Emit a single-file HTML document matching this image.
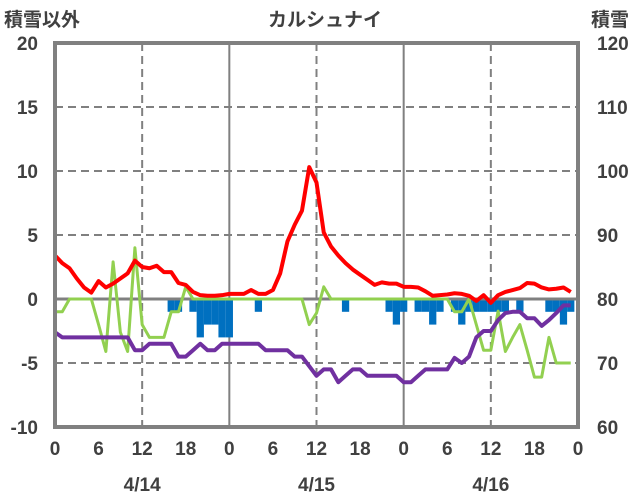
<!DOCTYPE html>
<html><head><meta charset="utf-8"><style>
html,body{margin:0;padding:0;background:#fff;}
svg{display:block;font-family:"Liberation Sans","Noto Sans CJK JP",sans-serif;}
</style></head><body>
<svg id="chart" width="636" height="501" viewBox="0 0 636 501"></svg>
<script>
const hours = [];for(let i=0;i<=71;i++)hours.push(i);
const tempVals = [3.4,2.8,2.4,1.6,0.9,0.5,1.4,0.9,1.2,1.6,2.0,3.0,2.5,2.4,2.6,2.1,2.1,1.25,1.1,0.55,0.3,0.25,0.25,0.3,0.4,0.4,0.4,0.7,0.4,0.4,0.7,2.0,4.5,5.8,6.9,10.3,9.1,5.2,4.1,3.4,2.8,2.3,1.9,1.5,1.1,1.3,1.2,1.2,0.95,0.95,0.9,0.6,0.25,0.3,0.35,0.45,0.4,0.25,-0.15,0.3,-0.3,0.3,0.55,0.7,0.85,1.25,1.2,0.9,0.75,0.8,0.9,0.55];
const greenVals = [-1,-1,0,0,0,0,-2,-4.1,2.9,-2.6,-4.1,4.0,-2.0,-3,-3,-3,-1,-1,0.95,0,0,0,0,0,0,0,0,0,0,0,0,0,0,0,0,-2.0,-1.1,0.95,0,0,0,0,0,0,0,0,0,0,0,0,0,0,0,0,0,-1,-1,0,-2,-4,-4,-0.95,-4.1,-3,-2,-4,-6.1,-6.1,-3,-5,-5,-5];
const snowDepth = [74.8,74,74,74,74,74,74,74,74,74,74,72,72,73,73,73,73,71,71,72,73,72,72,73,73,73,73,73,73,72,72,72,72,71,71,69.5,68,69,69,67,68,69,69,68,68,68,68,68,67,67,68,69,69,69,69,70.8,70,71,74,75,75,76.7,77.8,78,78,77,77,75.8,76.7,77.8,79,79];
const barVals = [0,0,0,0,0,0,0,0,0,0,0,0,0,0,0,0,-1,-1,0,-1,-3,-2,-2,-3,-3,0,0,0,-1,0,0,0,0,0,0,0,0,0,0,0,-1,0,0,0,0,0,-1,-2,-1,0,-1,-1,-2,-1,0,-1,-2,-1,-1,-1,-1,-1,-1,0,-1,0,0,0,-1,-1,-2,-1];
const leftTicks = [20,15,10,5,0,-5,-10];
const rightTicks = [120,110,100,90,80,70,60];
const xTickLabels = ["0","6","12","18","0","6","12","18","0","6","12","18","0"];
const dateLabels = ["4/14","4/15","4/16"];

const L=55,R=578,T=43,B=427;
const xs=h=>L+(R-L)*h/72;
const yl=v=>T+(20-v)*(B-T)/30;
const yr=v=>T+(120-v)*(B-T)/60;
const svg=document.getElementById('chart');
const NS="http://www.w3.org/2000/svg";
function mk(tag,attrs,parent){const e=document.createElementNS(NS,tag);for(const k in attrs)e.setAttribute(k,attrs[k]);(parent||svg).appendChild(e);return e;}

[15,10,5,-5].forEach(v=>{const g=mk('line',{x1:L,x2:R,y1:yl(v),y2:yl(v),stroke:'#808080','stroke-width':2,'stroke-dasharray':'8,5'});

});
[12,36,60].forEach(h=>{const g=mk('line',{x1:xs(h),x2:xs(h),y1:T,y2:B,stroke:'#808080','stroke-width':2,'stroke-dasharray':'8,5'});

});
[24,48].forEach(h=>{const g=mk('line',{x1:xs(h),x2:xs(h),y1:T,y2:B,stroke:'#808080','stroke-width':2});

});

barVals.forEach((v,i)=>{if(!v)return;const w=(R-L)/72;
const b=mk('rect',{x:xs(i)-w/2,y:yl(0),width:w,height:yl(v)-yl(0),fill:'#0070c0'});

});

const z=mk('line',{x1:L,x2:R,y1:yl(0),y2:yl(0),stroke:'#808080','stroke-width':3});



function line(vals,fy,color,w,name){const p=mk('polyline',{points:vals.map((v,i)=>xs(i)+','+fy(v)).join(' '),fill:'none',stroke:color,'stroke-width':w,'stroke-linejoin':'round'});

}
line(greenVals,yl,'#92d050',3,'green-series-line');
line(snowDepth,yr,'#7030a0',4,'snow-depth-line');
line(tempVals,yl,'#ff0000',4,'temperature-line');

const f=mk('rect',{x:L,y:T,width:R-L,height:B-T,fill:'none',stroke:'#808080','stroke-width':4});



const tc='#404040';
leftTicks.forEach(v=>{const t=mk('text',{x:38,y:yl(v)+7,'text-anchor':'end','font-size':19,'font-weight':'bold',fill:tc});t.textContent=v;

});
rightTicks.forEach(v=>{const t=mk('text',{x:597,y:yr(v)+7,'font-size':19,'font-weight':'bold',fill:tc});t.textContent=v;

});
xTickLabels.forEach((s,i)=>{const t=mk('text',{x:xs(i*6),y:455,'text-anchor':'middle','font-size':19,'font-weight':'bold',fill:tc});t.textContent=s;

});
dateLabels.forEach((s,i)=>{const t=mk('text',{x:xs(12+i*24),y:491,'text-anchor':'middle','font-size':19,'font-weight':'bold',fill:tc});t.textContent=s;

});
</script>
<div style="position:absolute;left:4px;top:5px;font:bold 19px 'Liberation Sans','Noto Sans CJK JP',sans-serif;color:#404040">積雪以外</div>
<div style="position:absolute;left:240px;top:5px;width:170px;text-align:center;font:bold 19px 'Liberation Sans','Noto Sans CJK JP',sans-serif;color:#404040">カルシュナイ</div>
<div style="position:absolute;left:591px;top:5px;font:bold 19px 'Liberation Sans','Noto Sans CJK JP',sans-serif;color:#404040">積雪</div>
</body></html>
